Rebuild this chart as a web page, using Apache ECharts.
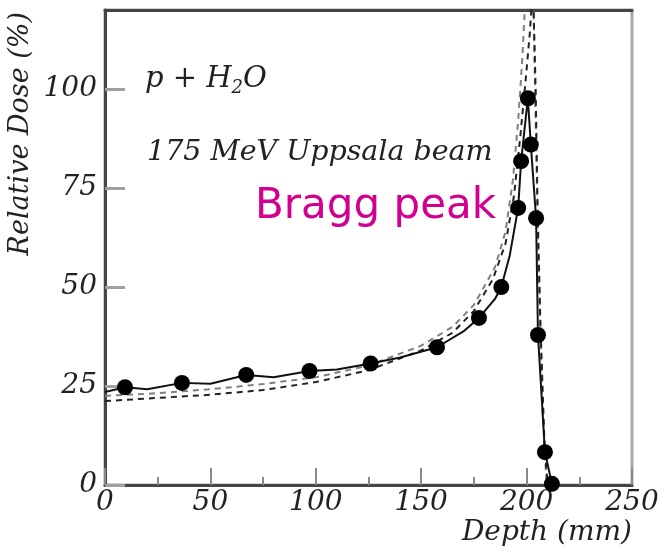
<!DOCTYPE html>
<html>
<head>
<meta charset="utf-8">
<script src="https://cdn.jsdelivr.net/npm/echarts@6/dist/echarts.min.js"></script>
<style>html,body{margin:0;padding:0;background:#fff;}#c{width:664px;height:549px;}</style>
</head>
<body>
<div id="c"></div>
<script>
// Measured data points (depth mm, relative dose %)
const pointDepth = [9.5, 36.5, 67, 97, 126, 157.5, 177.4, 188, 196, 197.4, 200.6, 202, 204.5, 205.4, 208.7, 212];
const pointDose  = [24.7, 25.8, 27.8, 28.8, 30.7, 34.8, 42.2, 50, 70, 81.8, 97.7, 86, 67.4, 37.9, 8.3, 0.3];

// Solid curve
const solidDepth = [0, 9.5, 20, 36.5, 50, 67, 80, 97, 110, 126, 140, 157.5, 170, 177.4, 185, 188, 192, 196, 197.4, 200.6, 202, 204.5, 205.4, 208.7, 212];
const solidDose  = [23.5, 24.7, 24.2, 25.8, 25.6, 27.8, 27.2, 28.8, 29.2, 30.7, 32.2, 34.8, 38.8, 42.2, 47, 50, 58, 70, 81.8, 97.7, 86, 67.4, 37.9, 8.3, 0.3];

// Dashed curve (dark)
const dashADepth = [0, 25, 50, 75, 100, 125, 150, 165, 175, 184, 190, 194, 197, 199.5, 201.5, 203, 203.8, 204.3, 205.2, 206.6, 208.5, 210];
const dashADose  = [21.2, 22, 22.8, 24, 26, 29, 34, 38.5, 44, 52, 61, 73, 88, 102, 114, 126, 126, 100, 70, 40, 10, 0];

// Dashed curve (grey)
const dashBDepth = [0, 25, 50, 75, 100, 125, 150, 165, 175, 185, 190, 193.5, 196, 198, 199.3, 200, 203, 204, 205.5, 207.5, 209.5];
const dashBDose  = [22.5, 23.2, 24.2, 25.5, 27.2, 30.2, 35.2, 40, 45.5, 55, 64, 77, 92, 108, 122, 130, 130, 100, 60, 20, 0];

// Tick values
const xTicks = [0, 50, 100, 150, 200, 250];
const yTicks = [0, 25, 50, 75, 100];

const zip = (a, b) => a.map((v, i) => [v, b[i]]);

const chart = echarts.init(document.getElementById('c'), null, {renderer: 'canvas'});
const serif = 'DejaVu Serif';
chart.setOption({
  animation: false,
  backgroundColor: '#fff',
  grid: {left: 105, top: 10, right: 32, bottom: 64, show: true, borderColor: '#a8a8a8', borderWidth: 3, backgroundColor: 'transparent'},
  xAxis: [{
    type: 'value', min: 0, max: 250, interval: 50,
    axisLine: {show: true, onZero: false, lineStyle: {color: '#454545', width: 3}},
    axisTick: {show: true, inside: true, length: 17, lineStyle: {color: '#8a8a8a', width: 2}},
    minorTick: {show: true, splitNumber: 2, length: 8, lineStyle: {color: '#8a8a8a', width: 2}},
    splitLine: {show: false},
    axisLabel: {margin: 4, fontFamily: serif, fontStyle: 'italic', fontSize: 28, color: '#222',
      formatter: v => xTicks.includes(v) ? String(v) : ''},
    name: 'Depth (mm)', nameLocation: 'end', nameGap: 0,
    nameTextStyle: {fontFamily: serif, fontStyle: 'italic', fontSize: 28, color: '#222', align: 'right', verticalAlign: 'top', padding: [34, 0, 0, 0]}
  }, {
    type: 'value', min: 0, max: 250, position: 'top',
    axisLine: {show: true, onZero: false, lineStyle: {color: '#454545', width: 3}},
    axisTick: {show: false}, axisLabel: {show: false}, splitLine: {show: false}
  }],
  yAxis: {
    type: 'value', min: 0, max: 120, interval: 25,
    axisLine: {show: true, onZero: false, lineStyle: {color: '#454545', width: 3}},
    axisTick: {show: true, inside: true, length: 20, lineStyle: {color: '#a0a0a0', width: 3}},
    splitLine: {show: false},
    axisLabel: {margin: 8, fontFamily: serif, fontStyle: 'italic', fontSize: 28, color: '#222', showMaxLabel: false,
      formatter: v => yTicks.includes(v) ? String(v) : ''}
  },
  graphic: [
    {type: 'text', left: 7, top: 12, rotation: Math.PI / 2, originX: 0, originY: 0,
     style: {text: 'Relative Dose (%)', fontFamily: serif, fontStyle: 'italic', fontSize: 27, fill: '#222'}},
    {type: 'text', x: 145, y: 62,
     style: {text: '{n|p + H}{s|2}{n|O}', rich: {
       n: {fontFamily: serif, fontStyle: 'italic', fontSize: 29, fill: '#222'},
       s: {fontFamily: serif, fontStyle: 'italic', fontSize: 18, fill: '#222', padding: [17, 0, 0, 0]}}}},
    {type: 'text', x: 147, y: 138,
     style: {text: '175 MeV Uppsala beam', fontFamily: serif, fontStyle: 'italic', fontSize: 28.5, fill: '#222'}},
    {type: 'text', x: 255, y: 186,
     style: {text: 'Bragg peak', fontFamily: 'DejaVu Sans', fontSize: 42, fill: '#d1008f'}}
  ],
  series: [
    {type: 'line', data: zip(dashBDepth, dashBDose), showSymbol: false, symbol: 'none', clip: true,
     lineStyle: {color: '#808080', width: 2, type: [6, 5]}},
    {type: 'line', data: zip(dashADepth, dashADose), showSymbol: false, symbol: 'none', clip: true,
     lineStyle: {color: '#222', width: 2, type: [6, 5]}},
    {type: 'line', data: zip(solidDepth, solidDose), showSymbol: false, symbol: 'none', clip: true,
     lineStyle: {color: '#111', width: 2}},
    {type: 'scatter', data: zip(pointDepth, pointDose), symbol: 'circle', symbolSize: 16,
     itemStyle: {color: '#000', opacity: 1}, z: 5}
  ]
});
</script>
</body>
</html>
